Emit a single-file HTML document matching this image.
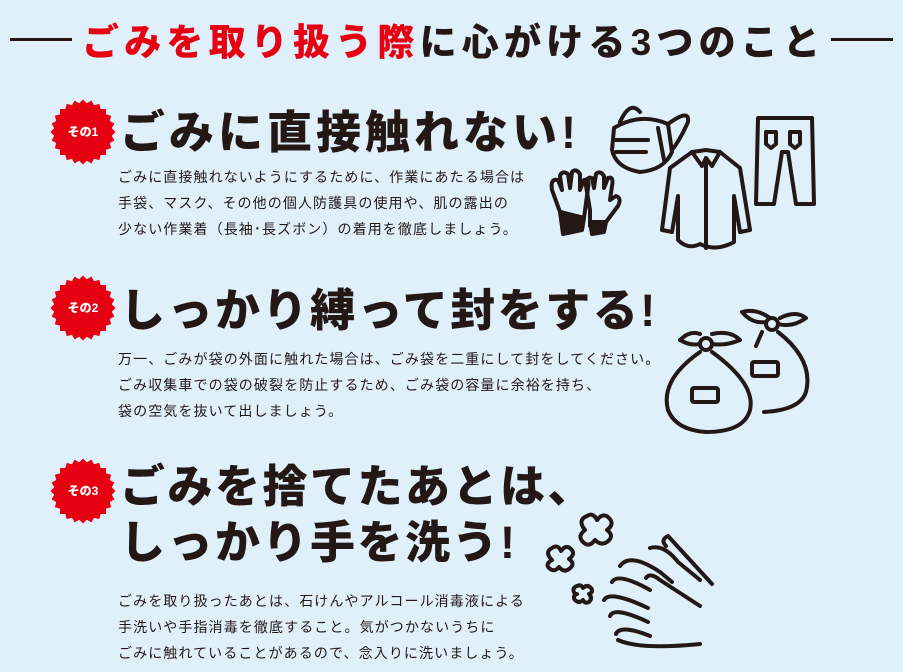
<!DOCTYPE html>
<html><head><meta charset="utf-8"><style>
body{margin:0;width:903px;height:672px;background:#dff0fb;overflow:hidden;position:relative;font-family:"Liberation Sans","Noto Sans CJK JP",sans-serif;color:#231815}
.a{position:absolute;white-space:nowrap}
.t{font-weight:900;font-size:37px;top:12px;left:82px;letter-spacing:5.2px}
.h{font-weight:900;font-size:45px;letter-spacing:4px}
.b{font-size:14px;line-height:26px;left:118px;letter-spacing:1.1px}
.line{position:absolute;height:3px;background:#231815;top:38px}
.badge{position:absolute;width:70px;height:70px}
.badge span{position:absolute;left:0;width:70px;top:26px;text-align:center;color:#fff;font-weight:900;font-size:12px}
</style></head><body>
<div class="line" style="left:10px;width:62px"></div>
<div class="line" style="left:831px;width:62px"></div>
<div class="a t"><span style="color:#e60012">ごみを取り扱う際</span>に心がける3つのこと</div>

<svg width="0" height="0" style="position:absolute"><defs><g id="st"><g fill="#e60012">
<rect x="-23" y="-23" width="46" height="46"/>
<rect x="-23" y="-23" width="46" height="46" transform="rotate(15)"/>
<rect x="-23" y="-23" width="46" height="46" transform="rotate(30)"/>
<rect x="-23" y="-23" width="46" height="46" transform="rotate(45)"/>
<rect x="-23" y="-23" width="46" height="46" transform="rotate(60)"/>
<rect x="-23" y="-23" width="46" height="46" transform="rotate(75)"/>
</g></g></defs></svg>

<div class="badge" style="left:48px;top:97px"><svg width="70" height="70"><use href="#st" x="35" y="35"/></svg><span>その1</span></div>
<div class="badge" style="left:48px;top:273px"><svg width="70" height="70"><use href="#st" x="35" y="35"/></svg><span>その2</span></div>
<div class="badge" style="left:48px;top:456px"><svg width="70" height="70"><use href="#st" x="35" y="35"/></svg><span>その3</span></div>

<div class="a h" style="left:120px;top:96px">ごみに直接触れない!</div>
<div class="a b" style="top:164px">ごみに直接触れないようにするために、作業にあたる場合は<br>手袋、マスク、その他の個人防護具の使用や、肌の露出の<br>少ない作業着（長袖･長ズボン）の着用を徹底しましょう。</div>

<div class="a h" style="left:120px;top:274px;letter-spacing:2.5px">しっかり縛って封をする!</div>
<div class="a b" style="top:346px">万一、ごみが袋の外面に触れた場合は、ごみ袋を二重にして封をしてください。<br>ごみ収集車での袋の破裂を防止するため、ごみ袋の容量に余裕を持ち、<br>袋の空気を抜いて出しましょう。</div>

<div class="a h" style="left:120px;top:459px;line-height:56px;letter-spacing:2.5px">ごみを捨てたあとは、<br>しっかり手を洗う!</div>
<div class="a b" style="top:588px">ごみを取り扱ったあとは、石けんやアルコール消毒液による<br>手洗いや手指消毒を徹底すること。気がつかないうちに<br>ごみに触れていることがあるので、念入りに洗いましょう。</div>

<svg class="a" style="left:0;top:0" width="903" height="672" fill="none" stroke="#231815" stroke-width="4" stroke-linecap="round" stroke-linejoin="round">
<path d="M614 128 Q640 112 668 124 L672 152 Q664 170 640 172 Q616 168 612 150 Z"/>
<path d="M616 140 L648 140 M616 152 L646 152 M658 128 L664 160"/>
<path d="M620 122 Q630 100 640 112 M668 124 Q690 108 688 122 Q680 140 672 150"/>
<path d="M560 212 L552 190 Q550 178 558 180 L562 190 L560 176 Q562 170 568 174 L570 188 L572 172 Q576 168 580 174 L580 190 L584 180 Q590 178 588 188 L584 218 Z"/>
<path d="M560 212 L584 218 L582 230 L563 234 Z" fill="#231815"/>
<path d="M590 210 L586 186 Q586 176 592 178 L594 188 L596 174 Q600 170 604 176 L604 188 L608 178 Q614 176 612 186 L610 200 L616 196 Q622 198 618 206 L606 222 L590 226 Z"/>
<path d="M590 222 L606 222 L604 232 L592 234 Z" fill="#231815"/>
<path d="M692 152 L706 150 L720 152 L740 168 L750 230 L740 232 L734 196 L734 242 Q716 252 700 244 Q688 250 678 240 L678 196 L672 232 L662 230 L670 168 Z"/>
<path d="M692 152 L702 166 L706 158 L712 166 L720 152 M706 158 L706 248"/>
<path d="M758 118 L812 118 L814 204 L796 204 L788 152 L782 152 L774 204 L756 204 Z"/>
<path d="M766 132 L776 132 L776 144 L771 148 L766 144 Z M790 132 L800 132 L800 144 L795 148 L790 144 Z"/>
<path d="M700 334 Q690 330 680 340 Q690 346 700 344 M712 334 Q730 330 740 340 Q726 346 712 344"/>
<circle cx="706" cy="344" r="6"/>
<path d="M700 352 Q660 380 668 410 Q676 430 706 432 Q744 432 750 410 Q756 384 712 352"/>
<rect x="692" y="388" width="26" height="14" rx="2"/>
<path d="M770 318 Q756 308 742 312 Q752 324 766 322 M780 318 Q796 310 806 318 Q792 328 778 324"/>
<circle cx="772" cy="324" r="6"/>
<path d="M778 332 Q814 360 806 392 Q800 410 764 412 M762 332 L756 346"/>
<rect x="752" y="362" width="26" height="14" rx="2"/>
<path d="M585 530 q-8 -10 2 -14 q6 -4 10 4 q6 -8 12 -2 q6 6 -2 12 q8 6 0 12 q-6 4 -12 -2 q-6 8 -12 2 q-6 -6 2 -12 z"/>
<path d="M552 560 q-8 -8 0 -12 q6 -4 9 3 q5 -7 10 -2 q5 5 -2 10 q7 5 0 10 q-5 4 -10 -2 q-5 6 -10 1 q-4 -4 3 -8 z"/>
<path d="M575 594 q-4 -6 2 -8 q4 -2 6 2 q4 -4 8 0 q3 4 -2 6 q4 4 0 8 q-4 2 -6 -2 q-4 4 -8 0 q-3 -4 2 -6 z"/>
<path d="M650 548 Q664 544 678 562 L700 580 M620 566 Q630 552 660 572 L672 582 M612 582 Q618 572 650 590 M604 600 Q610 590 648 608 M610 616 Q614 606 648 622 M616 634 Q620 624 650 636 M618 640 Q640 650 700 644"/>
<path d="M666 546 Q660 540 668 536 L712 584 M646 578 Q650 572 660 580 L700 606"/>
</svg>
</body></html>
